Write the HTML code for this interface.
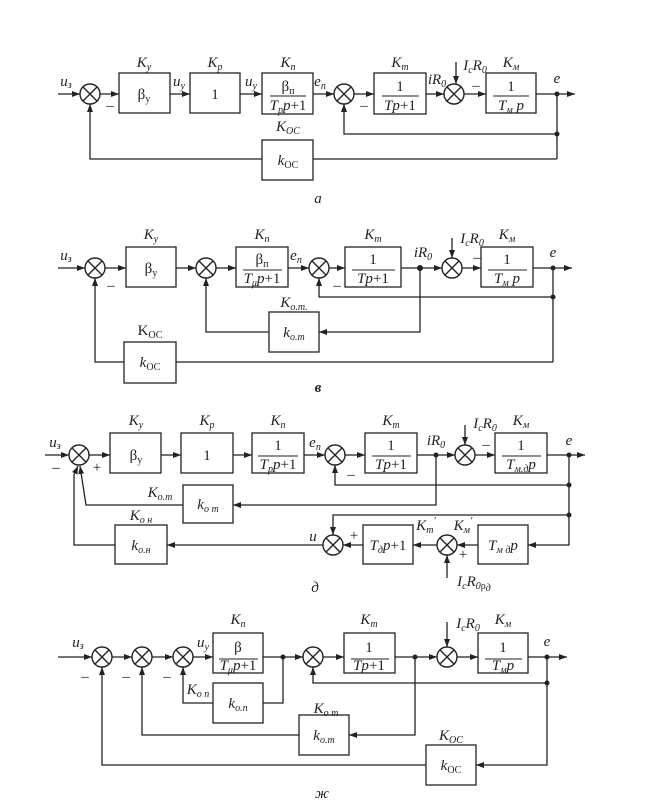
<!DOCTYPE html>
<html><head><meta charset="utf-8"><style>
html,body{margin:0;padding:0;background:#fff}
svg{display:block}
text{font-family:"Liberation Serif",serif;font-size:15px;fill:#222}
.i{font-style:italic}
.s{font-size:10px}
</style></head><body>
<svg width="660" height="807" viewBox="0 0 660 807" xmlns="http://www.w3.org/2000/svg">
<defs><marker id="a" markerWidth="8" markerHeight="6" refX="8" refY="3" orient="auto" markerUnits="userSpaceOnUse"><path d="M0,0 L8,3 L0,6 z" fill="#222"/></marker>
<g id="sm"><circle cx="0" cy="0" r="10"/><path d="M-7,-7L7,7M-7,7L7,-7" fill="none"/></g>
</defs>
<g fill="none" stroke="#222" stroke-width="1.3">
<!-- a -->
<path d="M58,94H80" marker-end="url(#a)"/><path d="M100,94H119" marker-end="url(#a)"/>
<path d="M170,94H190" marker-end="url(#a)"/><path d="M240,94H262" marker-end="url(#a)"/>
<path d="M313,94H334" marker-end="url(#a)"/><path d="M354,94H374" marker-end="url(#a)"/>
<path d="M426,94H444" marker-end="url(#a)"/><path d="M464,94H486" marker-end="url(#a)"/>
<path d="M536,94H575" marker-end="url(#a)"/>
<path d="M557,94V159"/><path d="M557,134H344V104" marker-end="url(#a)"/>
<path d="M557,159H313"/><path d="M262,159H90V104" marker-end="url(#a)"/>
<path d="M456,62V84" marker-end="url(#a)"/>
<rect x="119" y="73" width="51" height="40"/><rect x="190" y="73" width="50" height="40"/>
<rect x="262" y="73" width="51" height="41"/><rect x="374" y="73" width="52" height="41"/>
<rect x="486" y="73" width="50" height="40"/><rect x="262" y="140" width="51" height="40"/>
<!-- в -->
<path d="M58,268H85" marker-end="url(#a)"/><path d="M105,268H126" marker-end="url(#a)"/>
<path d="M176,268H196" marker-end="url(#a)"/><path d="M216,268H236" marker-end="url(#a)"/>
<path d="M288,268H309" marker-end="url(#a)"/><path d="M329,268H345" marker-end="url(#a)"/>
<path d="M401,268H442" marker-end="url(#a)"/><path d="M462,268H481" marker-end="url(#a)"/>
<path d="M533,268H572" marker-end="url(#a)"/>
<path d="M553,268V362"/><path d="M553,297H319V278" marker-end="url(#a)"/>
<path d="M420,268V332H319" marker-end="url(#a)"/><path d="M269,332H206V278" marker-end="url(#a)"/>
<path d="M553,362H176"/><path d="M124,362H95V278" marker-end="url(#a)"/>
<path d="M452,238V258" marker-end="url(#a)"/>
<rect x="126" y="247" width="50" height="40"/><rect x="236" y="247" width="52" height="40"/>
<rect x="345" y="247" width="56" height="40"/><rect x="481" y="247" width="52" height="40"/>
<rect x="269" y="312" width="50" height="40"/><rect x="124" y="342" width="52" height="41"/>
<!-- д -->
<path d="M45,455H69" marker-end="url(#a)"/><path d="M89,455H110" marker-end="url(#a)"/>
<path d="M161,455H181" marker-end="url(#a)"/><path d="M233,455H252" marker-end="url(#a)"/>
<path d="M304,455H325" marker-end="url(#a)"/><path d="M345,455H365" marker-end="url(#a)"/>
<path d="M417,455H455" marker-end="url(#a)"/><path d="M475,455H495" marker-end="url(#a)"/>
<path d="M547,455H585" marker-end="url(#a)"/>
<path d="M569,455V545H528" marker-end="url(#a)"/>
<path d="M569,485H335V465" marker-end="url(#a)"/>
<path d="M436,455V505H233" marker-end="url(#a)"/>
<path d="M183,505H86L80,466" marker-end="url(#a)"/>
<path d="M569,515H333V535" marker-end="url(#a)"/>
<path d="M478,545H457" marker-end="url(#a)"/><path d="M437,545H413" marker-end="url(#a)"/>
<path d="M363,545H343" marker-end="url(#a)"/><path d="M323,545H167" marker-end="url(#a)"/>
<path d="M115,545H74V475L78,466" marker-end="url(#a)"/>
<path d="M447,578V555" marker-end="url(#a)"/><path d="M465,425V445" marker-end="url(#a)"/>
<rect x="110" y="433" width="51" height="40"/><rect x="181" y="433" width="52" height="40"/>
<rect x="252" y="433" width="52" height="40"/><rect x="365" y="433" width="52" height="40"/>
<rect x="495" y="433" width="52" height="40"/><rect x="183" y="485" width="50" height="38"/>
<rect x="115" y="525" width="52" height="39"/><rect x="363" y="525" width="50" height="39"/>
<rect x="478" y="525" width="50" height="39"/>
<!-- ж -->
<path d="M58,657H92" marker-end="url(#a)"/><path d="M112,657H132" marker-end="url(#a)"/>
<path d="M152,657H173" marker-end="url(#a)"/><path d="M193,657H213" marker-end="url(#a)"/>
<path d="M263,657H303" marker-end="url(#a)"/><path d="M323,657H344" marker-end="url(#a)"/>
<path d="M395,657H437" marker-end="url(#a)"/><path d="M457,657H478" marker-end="url(#a)"/>
<path d="M528,657H567" marker-end="url(#a)"/>
<path d="M547,657V765H476" marker-end="url(#a)"/><path d="M547,683H313V667" marker-end="url(#a)"/>
<path d="M283,657V703H263"/><path d="M213,703H183V667" marker-end="url(#a)"/>
<path d="M415,657V735H349" marker-end="url(#a)"/><path d="M299,735H142V667" marker-end="url(#a)"/>
<path d="M426,765H102V667" marker-end="url(#a)"/>
<path d="M447,622V647" marker-end="url(#a)"/>
<rect x="213" y="633" width="50" height="40"/><rect x="344" y="633" width="51" height="40"/>
<rect x="478" y="633" width="50" height="40"/><rect x="213" y="683" width="50" height="40"/>
<rect x="299" y="715" width="50" height="40"/><rect x="426" y="745" width="50" height="40"/>
<path d="M270,96H306M382,96H419M493,96H529M243,270H282M352,270H395M488,270H527M258,456H298M372,456H411M502,456H541M219,659H258M351,659H389M485,659H522" stroke-width="1"/>
</g>
<g fill="#fff" stroke="#222" stroke-width="1.4">
<use href="#sm" x="90" y="94"/><use href="#sm" x="344" y="94"/><use href="#sm" x="454" y="94"/>
<use href="#sm" x="95" y="268"/><use href="#sm" x="206" y="268"/><use href="#sm" x="319" y="268"/><use href="#sm" x="452" y="268"/>
<use href="#sm" x="79" y="455"/><use href="#sm" x="335" y="455"/><use href="#sm" x="465" y="455"/><use href="#sm" x="333" y="545"/><use href="#sm" x="447" y="545"/>
<use href="#sm" x="102" y="657"/><use href="#sm" x="142" y="657"/><use href="#sm" x="183" y="657"/><use href="#sm" x="313" y="657"/><use href="#sm" x="447" y="657"/>
</g>
<g fill="#222">
<circle cx="557" cy="94" r="2.5"/><circle cx="557" cy="134" r="2.5"/>
<circle cx="420" cy="268" r="3"/><circle cx="553" cy="268" r="2.5"/><circle cx="553" cy="297" r="2.5"/>
<circle cx="436" cy="455" r="2.5"/><circle cx="569" cy="455" r="2.5"/><circle cx="569" cy="485" r="2.5"/><circle cx="569" cy="515" r="2.5"/>
<circle cx="283" cy="657" r="2.5"/><circle cx="415" cy="657" r="2.5"/><circle cx="547" cy="657" r="2.5"/><circle cx="547" cy="683" r="2.5"/>
</g>
<g text-anchor="middle">
<!-- a -->
<text x="144" y="67" class="i">K<tspan class="s" dy="3">у</tspan></text>
<text x="215" y="67" class="i">K<tspan class="s" dy="3">р</tspan></text>
<text x="288" y="67" class="i">K<tspan class="s" dy="3">п</tspan></text>
<text x="400" y="67" class="i">K<tspan class="s" dy="3">т</tspan></text>
<text x="511" y="67" class="i">K<tspan class="s" dy="3">м</tspan></text>
<text x="66" y="86" class="i">u<tspan class="s" dy="2">з</tspan></text>
<text x="179" y="86" class="i">u<tspan class="s" dy="3">у</tspan></text>
<text x="251" y="86" class="i">u<tspan class="s" dy="3">у</tspan></text>
<text x="320" y="86" class="i">e<tspan class="s" dy="3">п</tspan></text>
<text x="437" y="84" class="i">iR<tspan class="s" dy="3">0</tspan></text>
<text x="475" y="70" class="i">I<tspan class="s" dy="3">c</tspan><tspan dy="-3">R</tspan><tspan class="s" dy="3">0</tspan></text>
<text x="557" y="83" class="i">e</text>
<text x="144" y="99">β<tspan class="s" dy="3">у</tspan></text>
<text x="215" y="99">1</text>
<text x="288" y="91">β<tspan class="s" dy="3">п</tspan></text>
<text x="288" y="110" class="i">T<tspan class="s" dy="3">р</tspan><tspan dy="-3">p</tspan><tspan font-style="normal">+1</tspan></text>
<text x="400" y="91">1</text><text x="400" y="110" class="i">Tp<tspan font-style="normal">+1</tspan></text>
<text x="511" y="91">1</text><text x="511" y="110" class="i">T<tspan class="s" dy="3">м</tspan><tspan dy="-3"> p</tspan></text>
<text x="288" y="131" class="i">K<tspan class="s" dy="3">ОС</tspan></text>
<text x="288" y="165" class="i">k<tspan class="s" dy="3" font-style="normal">ОС</tspan></text>
<text x="110" y="110">–</text><text x="364" y="110">–</text><text x="476" y="90">–</text>
<text x="318" y="203" class="i">a</text>
<!-- в -->
<text x="151" y="239" class="i">K<tspan class="s" dy="3">у</tspan></text>
<text x="262" y="239" class="i">K<tspan class="s" dy="3">п</tspan></text>
<text x="373" y="239" class="i">K<tspan class="s" dy="3">т</tspan></text>
<text x="507" y="239" class="i">K<tspan class="s" dy="3">м</tspan></text>
<text x="66" y="260" class="i">u<tspan class="s" dy="2">з</tspan></text>
<text x="296" y="260" class="i">e<tspan class="s" dy="3">п</tspan></text>
<text x="423" y="257" class="i">iR<tspan class="s" dy="3">0</tspan></text>
<text x="472" y="243" class="i">I<tspan class="s" dy="3">c</tspan><tspan dy="-3">R</tspan><tspan class="s" dy="3">0</tspan></text>
<text x="553" y="257" class="i">e</text>
<text x="151" y="273">β<tspan class="s" dy="3">у</tspan></text>
<text x="262" y="264">β<tspan class="s" dy="3">п</tspan></text>
<text x="262" y="283" class="i">T<tspan class="s" dy="3">μ</tspan><tspan dy="-3">p</tspan><tspan font-style="normal">+1</tspan></text>
<text x="373" y="264">1</text><text x="373" y="283" class="i">Tp<tspan font-style="normal">+1</tspan></text>
<text x="507" y="264">1</text><text x="507" y="283" class="i">T<tspan class="s" dy="3">м</tspan><tspan dy="-3"> p</tspan></text>
<text x="294" y="307" class="i">K<tspan class="s" dy="3">о.т.</tspan></text>
<text x="294" y="337" class="i">k<tspan class="s" dy="3">о.т</tspan></text>
<text x="150" y="335">K<tspan class="s" dy="3">ОС</tspan></text>
<text x="150" y="367" class="i">k<tspan class="s" dy="3" font-style="normal">ОС</tspan></text>
<text x="111" y="290">–</text><text x="337" y="290">–</text><text x="477" y="262">–</text>
<text x="318" y="392" class="i" font-weight="bold">в</text>
<!-- д -->
<text x="136" y="425" class="i">K<tspan class="s" dy="3">у</tspan></text>
<text x="207" y="425" class="i">K<tspan class="s" dy="3">р</tspan></text>
<text x="278" y="425" class="i">K<tspan class="s" dy="3">п</tspan></text>
<text x="391" y="425" class="i">K<tspan class="s" dy="3">т</tspan></text>
<text x="521" y="425" class="i">K<tspan class="s" dy="3">м</tspan></text>
<text x="55" y="447" class="i">u<tspan class="s" dy="2">з</tspan></text>
<text x="315" y="447" class="i">e<tspan class="s" dy="3">п</tspan></text>
<text x="436" y="445" class="i">iR<tspan class="s" dy="3">0</tspan></text>
<text x="485" y="428" class="i">I<tspan class="s" dy="3">c</tspan><tspan dy="-3">R</tspan><tspan class="s" dy="3">0</tspan></text>
<text x="569" y="445" class="i">e</text>
<text x="136" y="460">β<tspan class="s" dy="3">у</tspan></text>
<text x="207" y="460">1</text>
<text x="278" y="450">1</text><text x="278" y="469" class="i">T<tspan class="s" dy="3">р</tspan><tspan dy="-3">p</tspan><tspan font-style="normal">+1</tspan></text>
<text x="391" y="450">1</text><text x="391" y="469" class="i">Tp<tspan font-style="normal">+1</tspan></text>
<text x="521" y="450">1</text><text x="521" y="469" class="i">T<tspan class="s" dy="3">м.д</tspan><tspan dy="-3">p</tspan></text>
<text x="160" y="497" class="i">K<tspan class="s" dy="3">о.т</tspan></text>
<text x="208" y="509" class="i">k<tspan class="s" dy="3">о т</tspan></text>
<text x="141" y="520" class="i">K<tspan class="s" dy="3">о н</tspan></text>
<text x="141" y="550" class="i">k<tspan class="s" dy="3">о.н</tspan></text>
<text x="388" y="550" class="i">T<tspan class="s" dy="3">д</tspan><tspan dy="-3">p</tspan><tspan font-style="normal">+1</tspan></text>
<text x="503" y="550" class="i">T<tspan class="s" dy="3">м д</tspan><tspan dy="-3">p</tspan></text>
<text x="313" y="541" class="i">u</text>
<text x="354" y="540">+</text><text x="463" y="559" font-size="12">+</text>
<text x="426" y="530" class="i">K<tspan class="s" dy="3">т</tspan><tspan dy="-9" font-size="11">′</tspan></text>
<text x="463" y="530" class="i">K<tspan class="s" dy="3">м</tspan><tspan dy="-9" font-size="11">′</tspan></text>
<text x="474" y="586" class="i">I<tspan class="s" dy="3">c</tspan><tspan dy="-3">R</tspan><tspan class="s" dy="3">0</tspan><tspan class="s" font-style="normal">ρ</tspan><tspan class="s" dy="2">д</tspan></text>
<text x="56" y="472">–</text><text x="97" y="472" font-size="12">+</text>
<text x="351" y="479">–</text><text x="486" y="449">–</text>
<text x="315" y="592" class="i">д</text>
<!-- ж -->
<text x="238" y="624" class="i">K<tspan class="s" dy="3">п</tspan></text>
<text x="369" y="624" class="i">K<tspan class="s" dy="3">т</tspan></text>
<text x="503" y="624" class="i">K<tspan class="s" dy="3">м</tspan></text>
<text x="78" y="647" class="i">u<tspan class="s" dy="2">з</tspan></text>
<text x="203" y="647" class="i">u<tspan class="s" dy="3">у</tspan></text>
<text x="468" y="628" class="i">I<tspan class="s" dy="3">c</tspan><tspan dy="-3">R</tspan><tspan class="s" dy="3">0</tspan></text>
<text x="547" y="646" class="i">e</text>
<text x="238" y="652">β</text><text x="238" y="670" class="i">T<tspan class="s" dy="3">μ</tspan><tspan dy="-3">p</tspan><tspan font-style="normal">+1</tspan></text>
<text x="369" y="652">1</text><text x="369" y="670" class="i">Tp<tspan font-style="normal">+1</tspan></text>
<text x="503" y="652">1</text><text x="503" y="670" class="i">T<tspan class="s" dy="3">м</tspan><tspan dy="-3">p</tspan></text>
<text x="198" y="694" class="i">K<tspan class="s" dy="3">о п</tspan></text>
<text x="238" y="708" class="i">k<tspan class="s" dy="3">о.п</tspan></text>
<text x="326" y="713" class="i">K<tspan class="s" dy="3">о т</tspan></text>
<text x="324" y="740" class="i">k<tspan class="s" dy="3">о.т</tspan></text>
<text x="451" y="740" class="i">K<tspan class="s" dy="3">ОС</tspan></text>
<text x="451" y="770" class="i">k<tspan class="s" dy="3" font-style="normal">ОС</tspan></text>
<text x="85" y="681">–</text><text x="126" y="681">–</text><text x="167" y="681">–</text>
<text x="322" y="798" class="i">ж</text>
</g>
</svg>
</body></html>
